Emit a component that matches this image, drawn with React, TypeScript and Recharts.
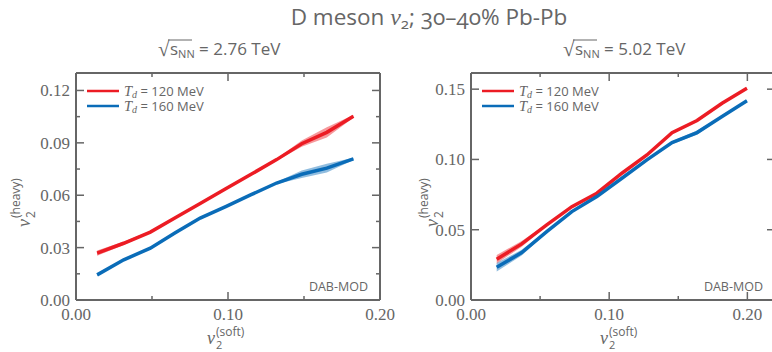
import React from 'react';
import { ComposedChart, Line, Area, XAxis, YAxis } from 'recharts';

// ---------- data ----------
const leftX = [0.0139, 0.0314, 0.0489, 0.0653, 0.0817, 0.0985, 0.1152, 0.132, 0.1485, 0.165, 0.1825];
const leftRed = [0.0268, 0.0325, 0.0389, 0.0471, 0.0553, 0.0637, 0.0720, 0.0804, 0.0895, 0.0960, 0.1052];
const leftRedErr = [0.0015, 0.001, 0.0006, 0.0005, 0.0005, 0.0005, 0.0005, 0.0006, 0.0018, 0.003, 0.0008];
const leftBlue = [0.0144, 0.0230, 0.0297, 0.0385, 0.0469, 0.0535, 0.0603, 0.0670, 0.0720, 0.0755, 0.0808];
const leftBlueErr = [0.0006, 0.0005, 0.0005, 0.0005, 0.0005, 0.0005, 0.0005, 0.0006, 0.0022, 0.0025, 0.0006];

const rightX = [0.0186, 0.0367, 0.0548, 0.0730, 0.0911, 0.1092, 0.1273, 0.1455, 0.1636, 0.1817, 0.1997];
const rightRed = [0.0290, 0.0399, 0.0534, 0.0664, 0.0760, 0.0902, 0.1032, 0.1191, 0.1277, 0.1400, 0.1507];
const rightRedErr = [0.003, 0.002, 0.0008, 0.0006, 0.0006, 0.0006, 0.0006, 0.0008, 0.0008, 0.0006, 0.0006];
const rightBlue = [0.0233, 0.0337, 0.0486, 0.0629, 0.0736, 0.0866, 0.0997, 0.1120, 0.1191, 0.1305, 0.1418];
const rightBlueErr = [0.003, 0.002, 0.0008, 0.0006, 0.0006, 0.0006, 0.0006, 0.001, 0.0015, 0.0006, 0.0006];

const xTicks = [0, 0.05, 0.1, 0.15, 0.2];
const xTickLabels = ['0.00', '', '0.10', '', '0.20'];
const leftYTicks = [0, 0.015, 0.03, 0.045, 0.06, 0.075, 0.09, 0.105, 0.12];
const leftYTickLabels = ['0.00', '', '0.03', '', '0.06', '', '0.09', '', '0.12'];
const rightYTicks = [0, 0.05, 0.1, 0.15];
const rightYTickLabels = ['0.00', '0.05', '0.10', '0.15'];

const seriesNames = ['T_d = 120 MeV', 'T_d = 160 MeV'];
const legendValues = ['120 MeV', '160 MeV'];

// ---------- style ----------
const AXIS = '#666666';
const TEXT = '#666666';
const RED = '#ec1c24';
const BLUE = '#0a6cb8';
const SERIF = '"Liberation Serif", "DejaVu Serif", serif';
const SANS = '"Open Sans", "Noto Sans", sans-serif';

type Row = { x: number; red: number; redBand: number[]; blue: number; blueBand: number[] };

function makeRows(xs: number[], red: number[], redErr: number[], blue: number[], blueErr: number[]): Row[] {
  return xs.map((x, i) => ({
    x,
    red: red[i],
    redBand: [red[i] - redErr[i], red[i] + redErr[i]],
    blue: blue[i],
    blueBand: [blue[i] - blueErr[i], blue[i] + blueErr[i]],
  }));
}

const leftRows = makeRows(leftX, leftRed, leftRedErr, leftBlue, leftBlueErr);
const rightRows = makeRows(rightX, rightRed, rightRedErr, rightBlue, rightBlueErr);

function findIdx(ticks: number[], v: number) {
  return ticks.findIndex((t) => Math.abs(t - v) < 1e-9);
}

const MAJ = 8;
const MIN = 4;

function bottomTick(ticks: number[], labels: string[]) {
  return (props: any) => {
    const { x, y, payload } = props;
    const i = findIdx(ticks, payload.value);
    const lab = labels[i] ?? '';
    const major = lab !== '';
    return (
      <g>
        <line x1={x} x2={x} y1={y} y2={y - (major ? MAJ : MIN)} stroke={AXIS} strokeWidth={1.5} />
        {major && (
          <text x={x} y={y + 20} textAnchor="middle" fill={TEXT} fontSize={17} fontFamily={SERIF}>
            {lab}
          </text>
        )}
      </g>
    );
  };
}

function topTick(ticks: number[], labels: string[]) {
  return (props: any) => {
    const { x, y, payload } = props;
    const i = findIdx(ticks, payload.value);
    const major = (labels[i] ?? '') !== '';
    return <line x1={x} x2={x} y1={y} y2={y + (major ? MAJ : MIN)} stroke={AXIS} strokeWidth={1.5} />;
  };
}

function leftTick(ticks: number[], labels: string[]) {
  return (props: any) => {
    const { x, y, payload } = props;
    const i = findIdx(ticks, payload.value);
    const lab = labels[i] ?? '';
    const major = lab !== '';
    return (
      <g>
        <line x1={x} x2={x + (major ? MAJ : MIN)} y1={y} y2={y} stroke={AXIS} strokeWidth={1.5} />
        {major && (
          <text x={x - 6} y={y + 6} textAnchor="end" fill={TEXT} fontSize={17} fontFamily={SERIF}>
            {lab}
          </text>
        )}
      </g>
    );
  };
}

function rightTick(ticks: number[], labels: string[]) {
  return (props: any) => {
    const { x, y, payload } = props;
    const i = findIdx(ticks, payload.value);
    const major = (labels[i] ?? '') !== '';
    return <line x1={x} x2={x - (major ? MAJ : MIN)} y1={y} y2={y} stroke={AXIS} strokeWidth={1.5} />;
  };
}

const axisLine = { stroke: AXIS, strokeWidth: 2 };

function Panel(props: {
  rows: Row[];
  xDomain: number[];
  yDomain: number[];
  yTicks: number[];
  yLabels: string[];
}) {
  const { rows, xDomain, yDomain, yTicks, yLabels } = props;
  return (
    <ComposedChart width={400} height={352} data={rows} margin={{ top: 63, right: 0, bottom: 22, left: 46 }}>
      <XAxis
        xAxisId="b"
        type="number"
        dataKey="x"
        domain={xDomain}
        allowDataOverflow
        ticks={xTicks}
        interval={0}
        height={30}
        tickSize={0}
        tickMargin={0}
        tickLine={false}
        axisLine={axisLine}
        tick={bottomTick(xTicks, xTickLabels)}
      />
      <XAxis
        xAxisId="t"
        orientation="top"
        type="number"
        dataKey="x"
        domain={xDomain}
        allowDataOverflow
        ticks={xTicks}
        interval={0}
        height={10}
        tickSize={0}
        tickMargin={0}
        tickLine={false}
        axisLine={axisLine}
        tick={topTick(xTicks, xTickLabels)}
      />
      <YAxis
        yAxisId="l"
        type="number"
        domain={yDomain}
        allowDataOverflow
        ticks={yTicks}
        interval={0}
        width={30}
        tickSize={0}
        tickMargin={0}
        tickLine={false}
        axisLine={axisLine}
        tick={leftTick(yTicks, yLabels)}
      />
      <YAxis
        yAxisId="r"
        orientation="right"
        type="number"
        domain={yDomain}
        allowDataOverflow
        ticks={yTicks}
        interval={0}
        width={20}
        tickSize={0}
        tickMargin={0}
        tickLine={false}
        axisLine={axisLine}
        tick={rightTick(yTicks, yLabels)}
      />
      <Area
        xAxisId="b"
        yAxisId="l"
        type="linear"
        dataKey="redBand"
        stroke="none"
        fill={RED}
        fillOpacity={0.45}
        isAnimationActive={false}
        dot={false}
        activeDot={false}
      />
      <Area
        xAxisId="b"
        yAxisId="l"
        type="linear"
        dataKey="blueBand"
        stroke="none"
        fill={BLUE}
        fillOpacity={0.45}
        isAnimationActive={false}
        dot={false}
        activeDot={false}
      />
      <Line
        xAxisId="b"
        yAxisId="l"
        type="linear"
        dataKey="red"
        name={seriesNames[0]}
        stroke={RED}
        strokeWidth={3.5}
        dot={false}
        activeDot={false}
        isAnimationActive={false}
      />
      <Line
        xAxisId="b"
        yAxisId="l"
        type="linear"
        dataKey="blue"
        name={seriesNames[1]}
        stroke={BLUE}
        strokeWidth={3.5}
        dot={false}
        activeDot={false}
        isAnimationActive={false}
      />
    </ComposedChart>
  );
}

function LegendBlock({ x }: { x: number }) {
  const colors = [RED, BLUE];
  return (
    <g>
      {legendValues.map((v, i) => {
        const y = 91 + i * 15;
        return (
          <g key={i}>
            <line x1={x} x2={x + 32} y1={y} y2={y} stroke={colors[i]} strokeWidth={2.5} />
            <text x={x + 37} y={y + 4.5} fill={TEXT} fontSize={13} fontFamily={SANS}>
              <tspan fontFamily={SERIF} fontStyle="italic" fontSize={14.5}>T</tspan>
              <tspan fontFamily={SERIF} fontStyle="italic" fontSize={10} dy={2}>d</tspan>
              <tspan dy={-2}>{' = ' + v}</tspan>
            </text>
          </g>
        );
      })}
    </g>
  );
}

function XLabel({ x }: { x: number }) {
  return (
    <g>
      <text x={x} y={344} fill={TEXT} fontSize={18} fontFamily={SERIF} fontStyle="italic">v</text>
      <text x={x + 9} y={336} fill={TEXT} fontSize={12} fontFamily={SANS}>(soft)</text>
      <text x={x + 9} y={349} fill={TEXT} fontSize={11} fontFamily={SANS}>2</text>
    </g>
  );
}

function YLabel({ x, y }: { x: number; y: number }) {
  return (
    <g transform={`translate(${x},${y}) rotate(-90)`}>
      <text x={0} y={0} fill={TEXT} fontSize={18} fontFamily={SERIF} fontStyle="italic">v</text>
      <text x={9} y={-10} fill={TEXT} fontSize={12} fontFamily={SANS}>(heavy)</text>
      <text x={9} y={5} fill={TEXT} fontSize={12} fontFamily={SANS}>2</text>
    </g>
  );
}

function SubTitle({ x0, text }: { x0: number; text: string }) {
  return (
    <g>
      <text x={x0} y={56} fill={TEXT} fontSize={21} fontFamily={SERIF}>√</text>
      <line x1={x0 + 10} x2={x0 + 34} y1={40} y2={40} stroke={TEXT} strokeWidth={1} />
      <text x={x0 + 12} y={55} fill={TEXT} fontSize={17} fontFamily={SANS}>
        <tspan>s</tspan>
        <tspan fontSize={11} dy={3}>NN</tspan>
        <tspan dy={-3}>{' = ' + text}</tspan>
      </text>
    </g>
  );
}

export default function App() {
  return (
    <div style={{ position: 'absolute', left: 0, top: 0, width: 772, height: 352, overflow: 'hidden', background: '#fff' }}>
      <div style={{ position: 'absolute', left: 0, top: 0 }}>
        <Panel rows={leftRows} xDomain={[0, 0.2]} yDomain={[0, 0.13]} yTicks={leftYTicks} yLabels={leftYTickLabels} />
      </div>
      <div style={{ position: 'absolute', left: 395, top: 0 }}>
        <Panel rows={rightRows} xDomain={[0, 0.22]} yDomain={[0, 0.1615]} yTicks={rightYTicks} yLabels={rightYTickLabels} />
      </div>
      <svg width={772} height={352} style={{ position: 'absolute', left: 0, top: 0, pointerEvents: 'none' }}>
        <text x={429} y={25} textAnchor="middle" fill={TEXT} fontSize={22.5} fontFamily={SANS} style={{ fontVariantNumeric: 'oldstyle-nums' }}>
          <tspan>D meson </tspan>
          <tspan fontFamily={SERIF} fontStyle="italic" fontSize={24}>v</tspan>
          <tspan fontSize={15} dy={4}>2</tspan>
          <tspan dy={-4}>; 30–40% Pb-Pb</tspan>
        </text>
        <SubTitle x0={158} text="2.76 TeV" />
        <SubTitle x0={563} text="5.02 TeV" />
        <LegendBlock x={87} />
        <LegendBlock x={482} />
        <text x={368} y={291} textAnchor="end" fill={TEXT} fontSize={12.5} fontFamily={SANS}>DAB-MOD</text>
        <text x={763} y={291} textAnchor="end" fill={TEXT} fontSize={12.5} fontFamily={SANS}>DAB-MOD</text>
        <XLabel x={207} />
        <XLabel x={600} />
        <YLabel x={30} y={227} />
        <YLabel x={438} y={227} />
      </svg>
    </div>
  );
}
